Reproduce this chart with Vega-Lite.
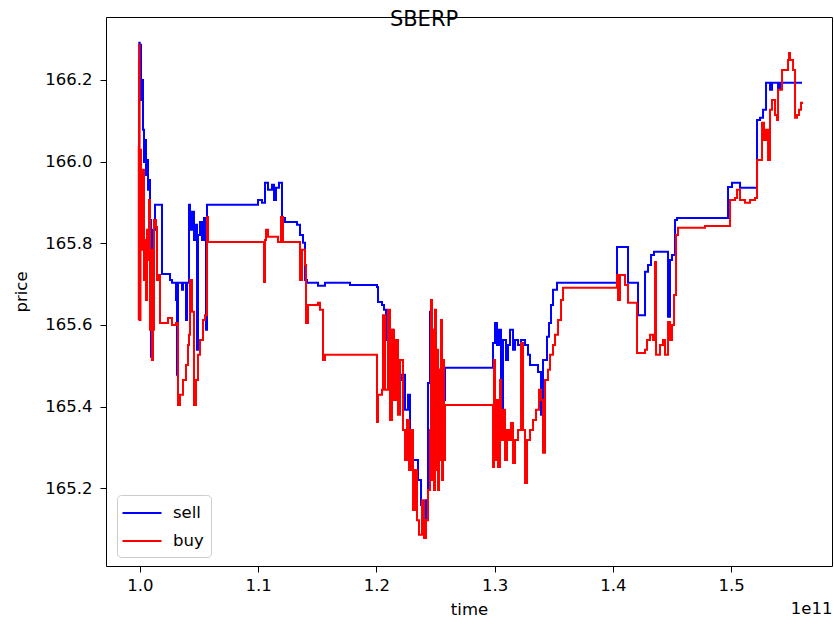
{
  "$schema": "https://vega.github.io/schema/vega-lite/v6.json",
  "width": 726,
  "height": 549,
  "autosize": {"type": "none"},
  "padding": {"left": 106, "top": 17, "right": 2, "bottom": 58},
  "background": "white",
  "config": {
    "view": {"stroke": "black", "strokeWidth": 1},
    "font": "DejaVu Sans",
    "axis": {"labelFont": "DejaVu Sans", "titleFont": "DejaVu Sans", "labelColor": "black", "titleColor": "black", "titleFontWeight": "normal", "labelFontSize": 16.5, "titleFontSize": 16.5, "grid": false, "domain": false, "tickColor": "black", "tickSize": 6, "tickWidth": 1}
  },
  "title": {"text": "SBERP", "font": "DejaVu Sans", "fontSize": 21, "fontWeight": "normal", "color": "black", "anchor": "middle", "dx": -45, "offset": -30, "baseline": "alphabetic"},
  "datasets": {
    "sell": [
      {"t": 9.9915e10, "p": 166.249}, {"t": 9.9941e10, "p": 166.291}, {"t": 9.9975e10, "p": 166.224}, {"t": 1.0e11, "p": 166.286},
      {"t": 1.00085e11, "p": 166.151}, {"t": 1.00169e11, "p": 166.2}, {"t": 1.00254e11, "p": 166.078}, {"t": 1.00338e11, "p": 165.999},
      {"t": 1.00423e11, "p": 166.053}, {"t": 1.00508e11, "p": 165.967}, {"t": 1.00592e11, "p": 166.004}, {"t": 1.00677e11, "p": 165.931},
      {"t": 1.00761e11, "p": 165.955}, {"t": 1.00846e11, "p": 165.857}, {"t": 1.00931e11, "p": 165.522}, {"t": 1.01015e11, "p": 165.759},
      {"t": 1.011e11, "p": 165.833}, {"t": 1.01269e11, "p": 165.894}, {"t": 1.01861e11, "p": 165.725}, {"t": 1.02538e11, "p": 165.71},
      {"t": 1.02707e11, "p": 165.703}, {"t": 1.03046e11, "p": 165.661}, {"t": 1.0313e11, "p": 165.478}, {"t": 1.03215e11, "p": 165.703},
      {"t": 1.03553e11, "p": 165.686}, {"t": 1.03638e11, "p": 165.703}, {"t": 1.03892e11, "p": 165.612}, {"t": 1.03976e11, "p": 165.703},
      {"t": 1.04145e11, "p": 165.894}, {"t": 1.0423e11, "p": 165.833}, {"t": 1.04399e11, "p": 165.877}, {"t": 1.04568e11, "p": 165.808},
      {"t": 1.04653e11, "p": 165.845}, {"t": 1.04822e11, "p": 165.539}, {"t": 1.04907e11, "p": 165.82}, {"t": 1.05076e11, "p": 165.852},
      {"t": 1.05245e11, "p": 165.808}, {"t": 1.05414e11, "p": 165.862}, {"t": 1.05584e11, "p": 165.588}, {"t": 1.05668e11, "p": 165.894},
      {"t": 1.09983e11, "p": 165.906}, {"t": 1.10321e11, "p": 165.899}, {"t": 1.10575e11, "p": 165.948}, {"t": 1.10829e11, "p": 165.931},
      {"t": 1.11167e11, "p": 165.943}, {"t": 1.11336e11, "p": 165.906}, {"t": 1.11506e11, "p": 165.936}, {"t": 1.11759e11, "p": 165.948},
      {"t": 1.12013e11, "p": 165.862}, {"t": 1.12267e11, "p": 165.852}, {"t": 1.13282e11, "p": 165.845}, {"t": 1.13536e11, "p": 165.82},
      {"t": 1.1379e11, "p": 165.801}, {"t": 1.13959e11, "p": 165.71}, {"t": 1.14128e11, "p": 165.703}, {"t": 1.15059e11, "p": 165.696},
      {"t": 1.15651e11, "p": 165.703}, {"t": 1.17766e11, "p": 165.698}, {"t": 1.2005e11, "p": 165.693}, {"t": 1.20135e11, "p": 165.656},
      {"t": 1.20473e11, "p": 165.649}, {"t": 1.20642e11, "p": 165.637}, {"t": 1.20812e11, "p": 165.563}, {"t": 1.20896e11, "p": 165.624},
      {"t": 1.21065e11, "p": 165.551}, {"t": 1.21235e11, "p": 165.588}, {"t": 1.21404e11, "p": 165.478}, {"t": 1.21658e11, "p": 165.539},
      {"t": 1.21827e11, "p": 165.465}, {"t": 1.22165e11, "p": 165.478}, {"t": 1.22419e11, "p": 165.392}, {"t": 1.22673e11, "p": 165.429},
      {"t": 1.22842e11, "p": 165.269}, {"t": 1.23519e11, "p": 165.22}, {"t": 1.23773e11, "p": 165.159}, {"t": 1.24026e11, "p": 165.098},
      {"t": 1.24196e11, "p": 165.171}, {"t": 1.24365e11, "p": 165.458}, {"t": 1.24534e11, "p": 165.632}, {"t": 1.24703e11, "p": 165.465},
      {"t": 1.24872e11, "p": 165.588}, {"t": 1.25042e11, "p": 165.453}, {"t": 1.2538e11, "p": 165.49}, {"t": 1.25634e11, "p": 165.416},
      {"t": 1.25803e11, "p": 165.495}, {"t": 1.29864e11, "p": 165.556}, {"t": 1.30033e11, "p": 165.605}, {"t": 1.30202e11, "p": 165.551},
      {"t": 1.30371e11, "p": 165.588}, {"t": 1.30541e11, "p": 165.367}, {"t": 1.3071e11, "p": 165.563}, {"t": 1.30964e11, "p": 165.514},
      {"t": 1.31133e11, "p": 165.551}, {"t": 1.31302e11, "p": 165.588}, {"t": 1.31556e11, "p": 165.539}, {"t": 1.31725e11, "p": 165.563},
      {"t": 1.31979e11, "p": 165.551}, {"t": 1.32233e11, "p": 165.563}, {"t": 1.32571e11, "p": 165.551}, {"t": 1.32825e11, "p": 165.527},
      {"t": 1.32994e11, "p": 165.502}, {"t": 1.33671e11, "p": 165.485}, {"t": 1.33925e11, "p": 165.38}, {"t": 1.34094e11, "p": 165.514},
      {"t": 1.34432e11, "p": 165.571}, {"t": 1.34601e11, "p": 165.605}, {"t": 1.34771e11, "p": 165.649}, {"t": 1.3494e11, "p": 165.686},
      {"t": 1.35278e11, "p": 165.703}, {"t": 1.40354e11, "p": 165.791}, {"t": 1.41285e11, "p": 165.703}, {"t": 1.42131e11, "p": 165.624},
      {"t": 1.42723e11, "p": 165.73}, {"t": 1.42977e11, "p": 165.747}, {"t": 1.43231e11, "p": 165.771}, {"t": 1.43484e11, "p": 165.779},
      {"t": 1.44669e11, "p": 165.62}, {"t": 1.44838e11, "p": 165.759}, {"t": 1.45007e11, "p": 165.771}, {"t": 1.45261e11, "p": 165.857},
      {"t": 1.4543e11, "p": 165.862}, {"t": 1.49745e11, "p": 165.938}, {"t": 1.50083e11, "p": 165.948}, {"t": 1.5076e11, "p": 165.936},
      {"t": 1.52198e11, "p": 166.102}, {"t": 1.52452e11, "p": 166.107}, {"t": 1.52706e11, "p": 166.127}, {"t": 1.5296e11, "p": 166.193},
      {"t": 1.53298e11, "p": 166.176}, {"t": 1.53467e11, "p": 166.193}, {"t": 1.53975e11, "p": 166.18}, {"t": 1.54144e11, "p": 166.193},
      {"t": 1.56005e11, "p": 166.193}
    ],
    "buy": [
      {"t": 9.9873e10, "p": 165.612}, {"t": 9.9898e10, "p": 166.036}, {"t": 9.9915e10, "p": 166.249}, {"t": 9.9941e10, "p": 166.286},
      {"t": 9.9966e10, "p": 165.906}, {"t": 1.0e11, "p": 165.612}, {"t": 1.00042e11, "p": 166.029}, {"t": 1.00085e11, "p": 165.906},
      {"t": 1.00169e11, "p": 165.784}, {"t": 1.00254e11, "p": 165.98}, {"t": 1.00338e11, "p": 165.71}, {"t": 1.00423e11, "p": 165.808},
      {"t": 1.00508e11, "p": 165.661}, {"t": 1.00592e11, "p": 165.833}, {"t": 1.00677e11, "p": 165.759}, {"t": 1.00761e11, "p": 165.906},
      {"t": 1.00846e11, "p": 165.588}, {"t": 1.00931e11, "p": 165.784}, {"t": 1.01015e11, "p": 165.514}, {"t": 1.011e11, "p": 165.588},
      {"t": 1.01184e11, "p": 165.857}, {"t": 1.01354e11, "p": 165.84}, {"t": 1.01438e11, "p": 165.71}, {"t": 1.01523e11, "p": 165.722},
      {"t": 1.01692e11, "p": 165.605}, {"t": 1.02369e11, "p": 165.617}, {"t": 1.02707e11, "p": 165.6}, {"t": 1.03046e11, "p": 165.605},
      {"t": 1.03215e11, "p": 165.404}, {"t": 1.03384e11, "p": 165.429}, {"t": 1.03638e11, "p": 165.465}, {"t": 1.03892e11, "p": 165.502},
      {"t": 1.04061e11, "p": 165.551}, {"t": 1.04145e11, "p": 165.576}, {"t": 1.0423e11, "p": 165.71}, {"t": 1.04399e11, "p": 165.632},
      {"t": 1.04568e11, "p": 165.404}, {"t": 1.04738e11, "p": 165.465}, {"t": 1.04907e11, "p": 165.527}, {"t": 1.05076e11, "p": 165.563},
      {"t": 1.0533e11, "p": 165.612}, {"t": 1.05499e11, "p": 165.624}, {"t": 1.05668e11, "p": 165.864}, {"t": 1.05753e11, "p": 165.803},
      {"t": 1.1049e11, "p": 165.705}, {"t": 1.10575e11, "p": 165.808}, {"t": 1.1066e11, "p": 165.833}, {"t": 1.10829e11, "p": 165.816},
      {"t": 1.11675e11, "p": 165.803}, {"t": 1.11929e11, "p": 165.864}, {"t": 1.12098e11, "p": 165.803}, {"t": 1.13536e11, "p": 165.71},
      {"t": 1.13705e11, "p": 165.784}, {"t": 1.13959e11, "p": 165.747}, {"t": 1.14044e11, "p": 165.605}, {"t": 1.14213e11, "p": 165.649},
      {"t": 1.15059e11, "p": 165.654}, {"t": 1.15228e11, "p": 165.637}, {"t": 1.15482e11, "p": 165.514}, {"t": 1.15651e11, "p": 165.527},
      {"t": 1.2005e11, "p": 165.362}, {"t": 1.20135e11, "p": 165.429}, {"t": 1.20473e11, "p": 165.441}, {"t": 1.20558e11, "p": 165.624},
      {"t": 1.20727e11, "p": 165.441}, {"t": 1.20981e11, "p": 165.637}, {"t": 1.2115e11, "p": 165.367}, {"t": 1.21319e11, "p": 165.588},
      {"t": 1.21488e11, "p": 165.416}, {"t": 1.21658e11, "p": 165.563}, {"t": 1.21827e11, "p": 165.38}, {"t": 1.21996e11, "p": 165.514},
      {"t": 1.2225e11, "p": 165.343}, {"t": 1.22419e11, "p": 165.269}, {"t": 1.22588e11, "p": 165.367}, {"t": 1.22757e11, "p": 165.245},
      {"t": 1.22927e11, "p": 165.343}, {"t": 1.23096e11, "p": 165.147}, {"t": 1.23265e11, "p": 165.245}, {"t": 1.23434e11, "p": 165.122},
      {"t": 1.23603e11, "p": 165.086}, {"t": 1.23857e11, "p": 165.171}, {"t": 1.24026e11, "p": 165.078}, {"t": 1.24196e11, "p": 165.122},
      {"t": 1.24365e11, "p": 165.196}, {"t": 1.24534e11, "p": 165.343}, {"t": 1.24619e11, "p": 165.661}, {"t": 1.24703e11, "p": 165.22},
      {"t": 1.24788e11, "p": 165.588}, {"t": 1.24872e11, "p": 165.196}, {"t": 1.24957e11, "p": 165.637}, {"t": 1.25042e11, "p": 165.245},
      {"t": 1.25126e11, "p": 165.539}, {"t": 1.25211e11, "p": 165.196}, {"t": 1.25295e11, "p": 165.49}, {"t": 1.2538e11, "p": 165.269},
      {"t": 1.25465e11, "p": 165.612}, {"t": 1.25549e11, "p": 165.22}, {"t": 1.25634e11, "p": 165.514}, {"t": 1.25718e11, "p": 165.269},
      {"t": 1.25803e11, "p": 165.404}, {"t": 1.29864e11, "p": 165.252}, {"t": 1.29948e11, "p": 165.514}, {"t": 1.30033e11, "p": 165.269},
      {"t": 1.30202e11, "p": 165.416}, {"t": 1.30287e11, "p": 165.252}, {"t": 1.30456e11, "p": 165.465}, {"t": 1.30541e11, "p": 165.318},
      {"t": 1.3071e11, "p": 165.392}, {"t": 1.30879e11, "p": 165.269}, {"t": 1.31048e11, "p": 165.343}, {"t": 1.31217e11, "p": 165.318},
      {"t": 1.31387e11, "p": 165.36}, {"t": 1.31556e11, "p": 165.262}, {"t": 1.31725e11, "p": 165.318}, {"t": 1.31979e11, "p": 165.343},
      {"t": 1.32233e11, "p": 165.556}, {"t": 1.32402e11, "p": 165.343}, {"t": 1.32571e11, "p": 165.213}, {"t": 1.3274e11, "p": 165.318},
      {"t": 1.32994e11, "p": 165.343}, {"t": 1.33248e11, "p": 165.367}, {"t": 1.33502e11, "p": 165.392}, {"t": 1.33755e11, "p": 165.441},
      {"t": 1.33925e11, "p": 165.416}, {"t": 1.34094e11, "p": 165.287}, {"t": 1.34263e11, "p": 165.465}, {"t": 1.34517e11, "p": 165.49},
      {"t": 1.34686e11, "p": 165.527}, {"t": 1.3494e11, "p": 165.551}, {"t": 1.35109e11, "p": 165.576}, {"t": 1.35363e11, "p": 165.612},
      {"t": 1.35617e11, "p": 165.661}, {"t": 1.35786e11, "p": 165.691}, {"t": 1.40354e11, "p": 165.722}, {"t": 1.40439e11, "p": 165.661},
      {"t": 1.40608e11, "p": 165.722}, {"t": 1.41031e11, "p": 165.698}, {"t": 1.41285e11, "p": 165.654}, {"t": 1.42046e11, "p": 165.531},
      {"t": 1.42723e11, "p": 165.539}, {"t": 1.42892e11, "p": 165.563}, {"t": 1.43146e11, "p": 165.576}, {"t": 1.434e11, "p": 165.563},
      {"t": 1.43569e11, "p": 165.754}, {"t": 1.43654e11, "p": 165.527}, {"t": 1.43992e11, "p": 165.551}, {"t": 1.44246e11, "p": 165.563},
      {"t": 1.44415e11, "p": 165.527}, {"t": 1.44669e11, "p": 165.607}, {"t": 1.44838e11, "p": 165.563}, {"t": 1.45007e11, "p": 165.6},
      {"t": 1.45176e11, "p": 165.673}, {"t": 1.45346e11, "p": 165.82}, {"t": 1.45515e11, "p": 165.838}, {"t": 1.47799e11, "p": 165.842},
      {"t": 1.49914e11, "p": 165.906}, {"t": 1.50337e11, "p": 165.911}, {"t": 1.50506e11, "p": 165.931}, {"t": 1.5076e11, "p": 165.906},
      {"t": 1.51183e11, "p": 165.899}, {"t": 1.51606e11, "p": 165.906}, {"t": 1.52029e11, "p": 165.911}, {"t": 1.52198e11, "p": 166.004},
      {"t": 1.52621e11, "p": 166.095}, {"t": 1.5279e11, "p": 166.053}, {"t": 1.5296e11, "p": 166.078}, {"t": 1.53129e11, "p": 166.004},
      {"t": 1.53298e11, "p": 166.127}, {"t": 1.53467e11, "p": 166.151}, {"t": 1.53721e11, "p": 166.114}, {"t": 1.5389e11, "p": 166.102},
      {"t": 1.53975e11, "p": 166.176}, {"t": 1.54313e11, "p": 166.224}, {"t": 1.54821e11, "p": 166.249}, {"t": 1.54905e11, "p": 166.266},
      {"t": 1.5499e11, "p": 166.249}, {"t": 1.55244e11, "p": 166.224}, {"t": 1.55413e11, "p": 166.107}, {"t": 1.55582e11, "p": 166.114},
      {"t": 1.55751e11, "p": 166.127}, {"t": 1.5592e11, "p": 166.144}, {"t": 1.56005e11, "p": 166.141}
    ]
  },
  "layer": [
    {
      "data": {"name": "sell"},
      "mark": {"type": "line", "interpolate": "step-after", "strokeWidth": 2, "clip": true},
      "encoding": {
        "x": {"field": "t", "type": "quantitative", "scale": {"domain": [97124000000, 158540000000], "nice": false, "zero": false},
          "axis": {"title": "time", "orient": "bottom", "values": [100000000000, 110000000000, 120000000000, 130000000000, 140000000000, 150000000000], "labelExpr": "format(datum.value / 1e11, '.1f')", "labelPadding": 5, "titlePadding": 8}},
        "y": {"field": "p", "type": "quantitative", "scale": {"domain": [165.0097, 166.354], "nice": false, "zero": false},
          "axis": {"title": "price", "values": [165.2, 165.4, 165.6, 165.8, 166.0, 166.2], "format": ".1f", "labelPadding": 8, "titlePadding": 15}},
        "color": {"datum": "sell", "type": "nominal", "scale": {"domain": ["sell", "buy"], "range": ["blue", "red"]},
          "legend": {"title": null, "orient": "none", "legendX": 11, "legendY": 478, "symbolType": "M-1.95,0H1.95", "symbolSize": 400, "symbolStrokeWidth": 2, "labelFont": "DejaVu Sans", "labelFontSize": 16.5, "labelColor": "black", "padding": 7, "rowPadding": 8, "labelOffset": 20, "symbolOffset": 7, "strokeColor": "#cccccc", "cornerRadius": 4, "fillColor": "white"}}
      }
    },
    {
      "data": {"name": "buy"},
      "mark": {"type": "line", "interpolate": "step-after", "strokeWidth": 2, "clip": true},
      "encoding": {
        "x": {"field": "t", "type": "quantitative",
          "axis": {"title": "1e11", "orient": "bottom", "labels": false, "ticks": false, "domain": false, "titleAnchor": "end", "titlePadding": 34}},
        "y": {"field": "p", "type": "quantitative"},
        "color": {"datum": "buy", "type": "nominal"}
      }
    }
  ],
  "resolve": {"axis": {"x": "independent"}}
}
